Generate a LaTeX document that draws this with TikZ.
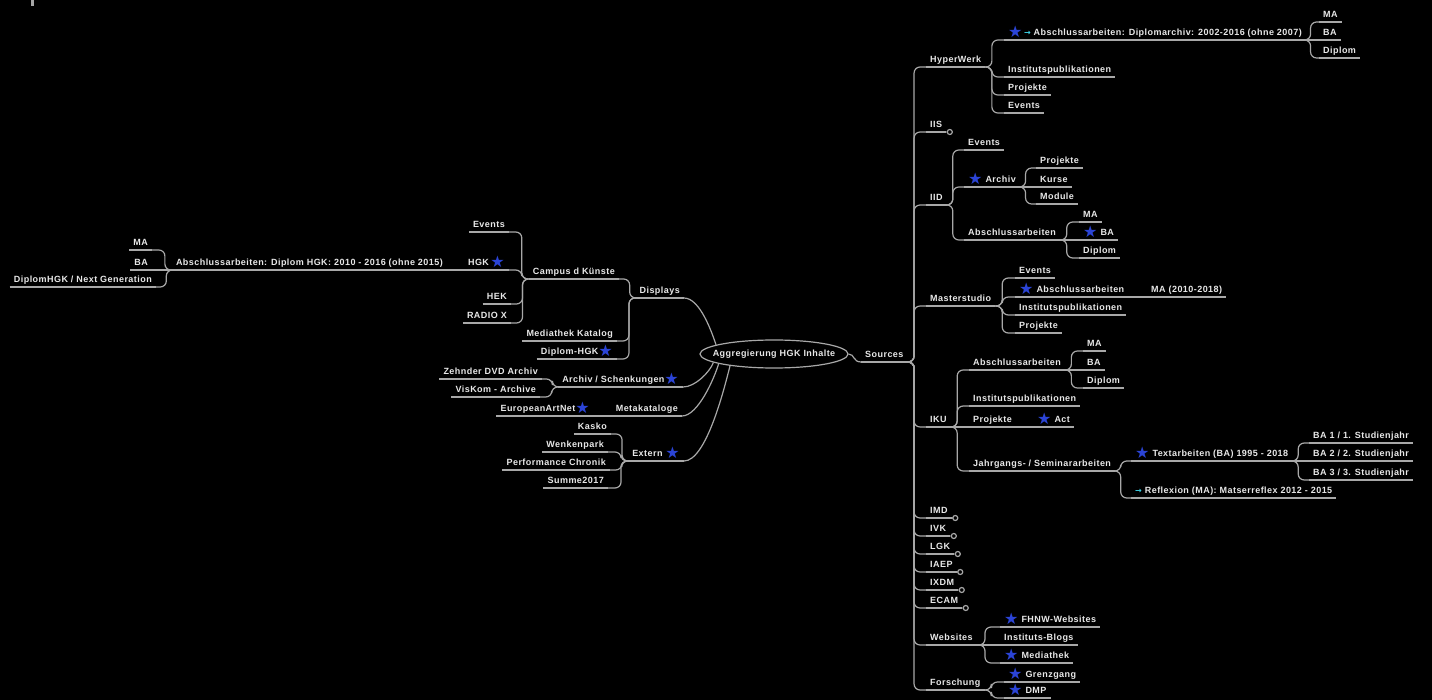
\documentclass[tikz,border=0pt]{standalone}
\usepackage{fontspec}
\setmainfont{Liberation Sans}[LetterSpace=5.0]
\newfontfamily\dejavu{DejaVu Sans}
\usetikzlibrary{shapes.geometric,calc}
\definecolor{txt}{HTML}{E8E8E8}
\definecolor{lncol}{HTML}{A8A8A8}
\definecolor{starblue}{HTML}{2B44D6}
\definecolor{arrcyan}{HTML}{3CD2E6}
\newcommand\stt{\raisebox{-2pt}{\dejavu\fontsize{16}{16}\selectfont\textcolor{starblue}{★}}}
\newcommand\arr{{\dejavu\fontsize{8}{8}\selectfont\textcolor{arrcyan}{→}}}
\newcommand\brR[2]{\draw[br] (#1.south east) -- ($(#1.south east)!0.35!(#2.south west|-#1.south east)$) |- (#2.south west);}
\newcommand\brL[2]{\draw[br] (#1.south west) -- ($(#1.south west)!0.35!(#2.south east|-#1.south west)$) |- (#2.south east);}
\newcommand\stR[2]{\draw[ln] (#1.south east) -- (#2.south west);}
\newcommand\stL[2]{\draw[ln] (#1.south west) -- (#2.south east);}
\begin{document}
\begin{tikzpicture}[x=1pt,y=-1pt,
 every node/.style={text=txt, font=\fontsize{9}{10}\selectfont\bfseries, inner xsep=4pt, inner ysep=2.5pt, text height=6.6pt, text depth=1.4pt},
 R/.style={anchor=south west},
 L/.style={anchor=south east},
 ln/.style={draw=lncol, line width=1.2pt},
 br/.style={ln, rounded corners=6pt}]
\fill[black] (0,0) rectangle (1432,700);
\useasboundingbox (0,0) rectangle (1432,700);
\fill[gray!70] (31,0) rectangle (34,6);

% centre
\node[draw=lncol, line width=1.2pt, ellipse, minimum width=148pt, minimum height=28pt, inner sep=0pt] (c) at (774,354) {\makebox[96pt]{Aggregierung HGK Inhalte}};

% right side
\node[R] (src) at (861,362) {Sources};
\node[R] (hw) at (926,67) {HyperWerk};
\node[R] (iis) at (926,132) {IIS};
\node[R] (iid) at (926,205) {IID};
\node[R] (ms) at (926,306) {Masterstudio};
\node[R] (iku) at (926,427) {IKU};
\node[R] (imd) at (926,518) {IMD};
\node[R] (ivk) at (926,536) {IVK};
\node[R] (lgk) at (926,554) {LGK};
\node[R] (iaep) at (926,572) {IAEP};
\node[R] (ixdm) at (926,590) {IXDM};
\node[R] (ecam) at (926,608) {ECAM};
\node[R] (web) at (926,645) {Websites};
\node[R] (fo) at (926,690) {Forschung};

\node[R] (hwa) at (1004,40) {\stt\,\arr\ Abschlussarbeiten: Diplomarchiv: 2002-2016 (ohne 2007)};
\node[R] (hwi) at (1004,77) {Institutspublikationen};
\node[R] (hwp) at (1004,95) {Projekte};
\node[R] (hwe) at (1004,113) {Events};
\node[R] (hwma) at (1319,22) {MA};
\node[R] (hwba) at (1319,40) {BA};
\node[R] (hwdi) at (1319,58) {Diplom};

\node[R] (iide) at (964,150) {Events};
\node[R] (iida) at (964,187) {\stt\ Archiv};
\node[R] (iidb) at (964,240) {Abschlussarbeiten};
\node[R] (iidp) at (1036,168) {Projekte};
\node[R] (iidk) at (1036,187) {Kurse};
\node[R] (iidm) at (1036,204) {Module};
\node[R] (iidma) at (1079,222) {MA};
\node[R] (iidba) at (1079,240) {\stt\ BA};
\node[R] (iiddi) at (1079,258) {Diplom};

\node[R] (mse) at (1015,278) {Events};
\node[R] (msa) at (1015,297) {\stt\ Abschlussarbeiten};
\node[R] (msi) at (1015,315) {Institutspublikationen};
\node[R] (msp) at (1015,333) {Projekte};
\node[R] (msma) at (1147,297) {MA (2010-2018)};

\node[R] (ikua) at (969,370) {Abschlussarbeiten};
\node[R] (ikui) at (969,406) {Institutspublikationen};
\node[R] (ikup) at (969,427) {Projekte};
\node[R] (ikuj) at (969,471) {Jahrgangs- / Seminararbeiten};
\node[R] (ikuma) at (1083,351) {MA};
\node[R] (ikuba) at (1083,370) {BA};
\node[R] (ikudi) at (1083,388) {Diplom};
\node[R] (ikuact) at (1033,427) {\stt\ Act};
\node[R] (ikut) at (1131,461) {\stt\ Textarbeiten (BA) 1995 - 2018};
\node[R] (ikur) at (1131,498) {\arr\ Reflexion (MA): Matserreflex 2012 - 2015};
\node[R] (ba1) at (1309,443) {BA 1 / 1. Studienjahr};
\node[R] (ba2) at (1309,461) {BA 2 / 2. Studienjahr};
\node[R] (ba3) at (1309,480) {BA 3 / 3. Studienjahr};

\node[R] (webf) at (1000,627) {\stt\ FHNW-Websites};
\node[R] (webi) at (1000,645) {Instituts-Blogs};
\node[R] (webm) at (1000,663) {\stt\ Mediathek};
\node[R] (fog) at (1004,682) {\stt\ Grenzgang};
\node[R] (fod) at (1004,698) {\stt\ DMP};

% left side
\node[L] (disp) at (684,298) {Displays};
\node[L] (dca) at (619,279) {Campus d Künste};
\node[L] (dme) at (617,341) {Mediathek Katalog};
\node[L] (ddh) at (617,359) {Diplom-HGK\stt};
\node[L] (dcae) at (509,232) {Events};
\node[L] (dcah) at (509,270) {HGK\,\stt};
\node[L] (dcahek) at (511,304) {HEK};
\node[L] (dcar) at (511,323) {RADIO X};
\node[L] (hgka) at (447,270) {Abschlussarbeiten: Diplom HGK: 2010 - 2016 (ohne 2015)};
\node[L] (hgkma) at (152,250) {MA};
\node[L] (hgkba) at (152,270) {BA};
\node[L] (hgkdi) at (156,287) {DiplomHGK / Next Generation};
\node[L] (arch) at (683,387) {Archiv / Schenkungen\stt};
\node[L] (archz) at (542,379) {Zehnder DVD Archiv};
\node[L] (archv) at (540,397) {VisKom - Archive};
\node[L] (meta) at (682,416) {Metakataloge};
\node[L] (metae) at (594,416) {EuropeanArtNet\stt};
\node[L] (ext) at (684,461) {Extern \stt};
\node[L] (exk) at (611,434) {Kasko};
\node[L] (exw) at (608,452) {Wenkenpark};
\node[L] (exp) at (610,470) {Performance Chronik};
\node[L] (exs) at (608,488) {Summe2017};

% underlines
\foreach \n in {src,hw,iis,iid,ms,iku,imd,ivk,lgk,iaep,ixdm,ecam,web,fo,
  hwa,hwi,hwp,hwe,hwma,hwba,hwdi,iide,iida,iidb,iidp,iidk,iidm,iidma,iidba,iiddi,
  mse,msa,msi,msp,msma,ikua,ikui,ikup,ikuj,ikuma,ikuba,ikudi,ikuact,ikut,ikur,ba1,ba2,ba3,
  webf,webi,webm,fog,fod,
  disp,dca,dme,ddh,dcae,dcah,dcahek,dcar,hgka,hgkma,hgkba,hgkdi,arch,archz,archv,meta,metae,
  ext,exk,exw,exp,exs}
  \draw[ln] (\n.south west) -- (\n.south east);
\foreach \n in {iis,imd,ivk,lgk,iaep,ixdm,ecam}
  \draw[ln] (\n.south east) -- ++(1,0) ++(2.5,0) circle (2.5);

% connectors from the centre
\draw[ln] (c.east) .. controls +(6,0) and +(-8,0) .. (src.south west);
\draw[ln] (disp.south east) .. controls +(16,0) and +(-4,-12) .. (c.171);
\draw[ln] (arch.south east) .. controls +(12,0) and +(-4,10) .. (c.188);
\draw[ln] (meta.south east) .. controls +(16,0) and +(-4,14) .. (c.190);
\draw[ln] (ext.south east) .. controls +(22,0) and +(-6,24) .. (c.195);

% right branches
\brR{src}{hw} \brR{src}{iis} \brR{src}{iid} \brR{src}{ms} \brR{src}{iku}
\brR{src}{imd} \brR{src}{ivk} \brR{src}{lgk} \brR{src}{iaep} \brR{src}{ixdm}
\brR{src}{ecam} \brR{src}{web} \brR{src}{fo}
\brR{hw}{hwa} \brR{hw}{hwi} \brR{hw}{hwp} \brR{hw}{hwe}
\brR{hwa}{hwma} \stR{hwa}{hwba} \brR{hwa}{hwdi}
\brR{iid}{iide} \brR{iid}{iida} \brR{iid}{iidb}
\brR{iida}{iidp} \stR{iida}{iidk} \brR{iida}{iidm}
\brR{iidb}{iidma} \stR{iidb}{iidba} \brR{iidb}{iiddi}
\brR{ms}{mse} \brR{ms}{msa} \brR{ms}{msi} \brR{ms}{msp}
\stR{msa}{msma}
\brR{iku}{ikua} \brR{iku}{ikui} \stR{iku}{ikup} \brR{iku}{ikuj}
\brR{ikua}{ikuma} \stR{ikua}{ikuba} \brR{ikua}{ikudi}
\stR{ikup}{ikuact}
\brR{ikuj}{ikut} \brR{ikuj}{ikur}
\brR{ikut}{ba1} \stR{ikut}{ba2} \brR{ikut}{ba3}
\brR{web}{webf} \stR{web}{webi} \brR{web}{webm}
\brR{fo}{fog} \brR{fo}{fod}

% left branches
\brL{disp}{dca} \brL{disp}{dme} \brL{disp}{ddh}
\brL{dca}{dcae} \brL{dca}{dcah} \brL{dca}{dcahek} \brL{dca}{dcar}
\stL{dcah}{hgka}
\brL{hgka}{hgkma} \stL{hgka}{hgkba} \brL{hgka}{hgkdi}
\brL{arch}{archz} \brL{arch}{archv}
\stL{meta}{metae}
\brL{ext}{exk} \brL{ext}{exw} \brL{ext}{exp} \brL{ext}{exs}
\end{tikzpicture}
\end{document}
